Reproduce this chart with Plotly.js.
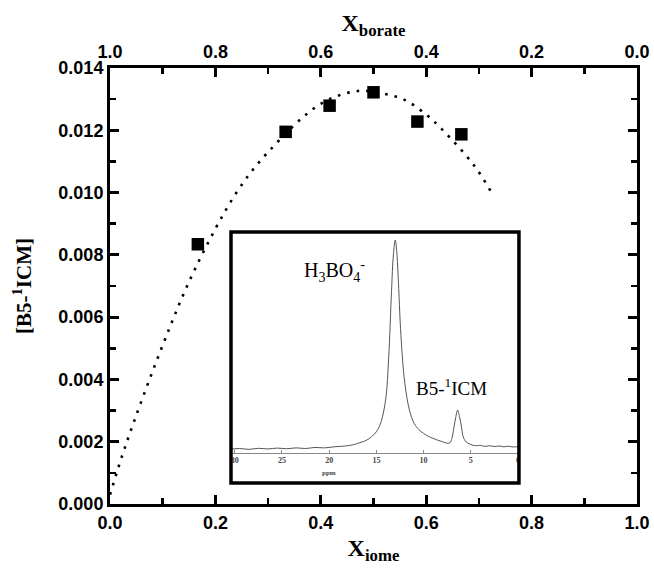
<!DOCTYPE html>
<html>
<head>
<meta charset="utf-8">
<script src="https://cdn.plot.ly/plotly-3.0.1.min.js"></script>
<style>html,body{margin:0;padding:0;background:#fff;}#chart{width:654px;height:570px;}</style>
</head>
<body>
<div id="chart"></div>
<script>
// Job's plot data (mole fraction of iome vs complex concentration)
const xIome = [0.1667, 0.3333, 0.4167, 0.5, 0.5833, 0.6667];
const conc = [0.00834, 0.01195, 0.01279, 0.01322, 0.01228, 0.01187];

// dotted fit curve
const fitX = [0.0, 0.03, 0.10, 0.16, 0.24, 0.30, 0.40, 0.47, 0.52, 0.56, 0.60, 0.63, 0.69, 0.724];
const fitY = [0.0003, 0.0019, 0.0051, 0.0075, 0.0100, 0.0113, 0.01285, 0.01326, 0.01317, 0.01297, 0.0125, 0.01203, 0.01089, 0.0100];

// inset 11B NMR spectrum (ppm, relative intensity)
const ppm = [30.4, 29.5, 28.5, 27.5, 26.5, 25.5, 24.5, 23.5, 22.5, 21.5, 20.5, 19.5, 18.5, 17.5, 17.0, 16.5, 16.0, 15.5, 15.0, 14.5, 14.0, 13.7, 13.4, 13.2, 13.0, 12.85, 12.7, 12.4, 12.0, 11.5, 11.0, 10.5, 10.0, 9.5, 9.0, 8.5, 8.0, 7.5, 7.2, 7.0, 6.8, 6.6, 6.4, 6.2, 6.0, 5.8, 5.5, 5.2, 4.8, 4.4, 4.0, 3.5, 3.0, 2.5, 2.0, 1.5, 1.0, 0.5, -0.1];
const inten = [1.6, 1.9, 1.5, 2.0, 1.7, 2.1, 1.8, 2.2, 1.9, 2.4, 2.2, 2.7, 3.0, 3.6, 4.3, 5.0, 5.9, 7.5, 9.8, 14.5, 25.6, 44.5, 75.7, 93, 100, 95, 83.5, 55, 33, 20, 13.7, 10.8, 9.0, 7.6, 6.7, 5.8, 5.1, 4.4, 4.6, 6.7, 11.5, 16.5, 20, 17, 12.5, 7.4, 5.0, 4.2, 3.5, 3.2, 3.4, 2.9, 3.2, 2.8, 3.1, 2.7, 3.0, 2.6, 2.9];

const ppmTicks = [30, 25, 20, 15, 10, 5, 0];

const serif = "Liberation Serif, Times New Roman, serif";
const sans = "Liberation Sans, Arial, sans-serif";

const traces = [
  {x: fitX, y: fitY, type: 'scatter', mode: 'lines', line: {shape: 'spline', color: '#000', width: 2.6, dash: '2.6px,7px'}, hoverinfo: 'skip', showlegend: false},
  {x: xIome, y: conc, type: 'scatter', mode: 'markers', marker: {symbol: 'square', size: 12.5, color: '#000'}, showlegend: false},
  {x: [], y: [], xaxis: 'x2', yaxis: 'y', type: 'scatter', showlegend: false},
  {x: ppm, y: inten, xaxis: 'x3', yaxis: 'y3', type: 'scatter', mode: 'lines', line: {color: '#555', width: 1, shape: 'spline'}, showlegend: false}
];

const axisCommon = {showgrid: false, zeroline: false, showline: true, linecolor: '#000', linewidth: 3,
  ticks: 'inside', ticklen: 9, tickwidth: 3, tickcolor: '#000',
  tickfont: {family: sans, size: 18, color: '#000', weight: 700}};

const inX0 = 0.2296, inX1 = 0.776, inY0 = 0.048, inY1 = 0.624;

const layout = {
  width: 654, height: 570,
  margin: {l: 110, r: 17, t: 68, b: 66},
  paper_bgcolor: '#fff', plot_bgcolor: '#fff',
  showlegend: false,
  xaxis: Object.assign({}, axisCommon, {
    range: [0, 1], dtick: 0.2, tick0: 0, tickformat: '.1f', mirror: true,
    minor: {dtick: 0.1, ticks: 'inside', ticklen: 6, tickwidth: 2.5, tickcolor: '#000'},
    title: {text: 'X<sub>iome</sub>', font: {family: serif, size: 24, color: '#000', weight: 700}, standoff: 8}
  }),
  xaxis2: Object.assign({}, axisCommon, {
    overlaying: 'x', side: 'top', anchor: 'y',
    range: [1, 0], dtick: 0.2, tick0: 0, tickformat: '.1f',
    minor: {dtick: 0.1, ticks: 'inside', ticklen: 6, tickwidth: 2.5, tickcolor: '#000'},
    title: {text: 'X<sub>borate</sub>', font: {family: serif, size: 24, color: '#000', weight: 700}, standoff: 4}
  }),
  yaxis: Object.assign({}, axisCommon, {
    range: [0, 0.014], dtick: 0.002, tick0: 0, tickformat: '.3f', mirror: 'ticks',
    minor: {dtick: 0.001, ticks: 'inside', ticklen: 6, tickwidth: 2.5, tickcolor: '#000'},
    title: {text: '[B5-<sup>1</sup>ICM]', font: {family: serif, size: 21, color: '#000', weight: 700}, standoff: 22}
  }),
  xaxis3: {
    domain: [inX0, inX1], anchor: 'y3', range: [30.4, -0.1],
    tickvals: ppmTicks, ticktext: ppmTicks.map(String),
    showgrid: false, zeroline: false, showline: true, linecolor: '#888', linewidth: 1,
    ticks: 'inside', ticklen: 3, tickwidth: 1, tickcolor: '#888',
    tickfont: {family: serif, size: 8, color: '#444', weight: 700}
  },
  yaxis3: {domain: [0.118, inY1], anchor: 'x3', range: [0, 103.8], visible: false},
  shapes: [
    {type: 'rect', xref: 'paper', yref: 'paper', x0: inX0, x1: inX1, y0: inY0, y1: inY1, line: {color: '#000', width: 3.5}, layer: 'above'}
  ],
  annotations: [
    {xref: 'paper', yref: 'paper', x: 0.3638, y: 0.498, xanchor: 'left', yanchor: 'bottom', showarrow: false,
     text: 'H<sub>3</sub>BO<sub>4</sub><sup>-</sup>', font: {family: serif, size: 20, color: '#000'}},
    {xref: 'paper', yref: 'paper', x: 0.5769, y: 0.236, xanchor: 'left', yanchor: 'bottom', showarrow: false,
     text: 'B5-<sup>1</sup>ICM', font: {family: serif, size: 19, color: '#000'}},
    {xref: 'x3', yref: 'paper', x: 20, y: 0.071, xanchor: 'center', yanchor: 'middle', showarrow: false,
     text: 'ppm', font: {family: serif, size: 7, color: '#444', weight: 700}}
  ]
};

Plotly.newPlot('chart', traces, layout, {displayModeBar: false, staticPlot: true});
</script>
</body>
</html>
